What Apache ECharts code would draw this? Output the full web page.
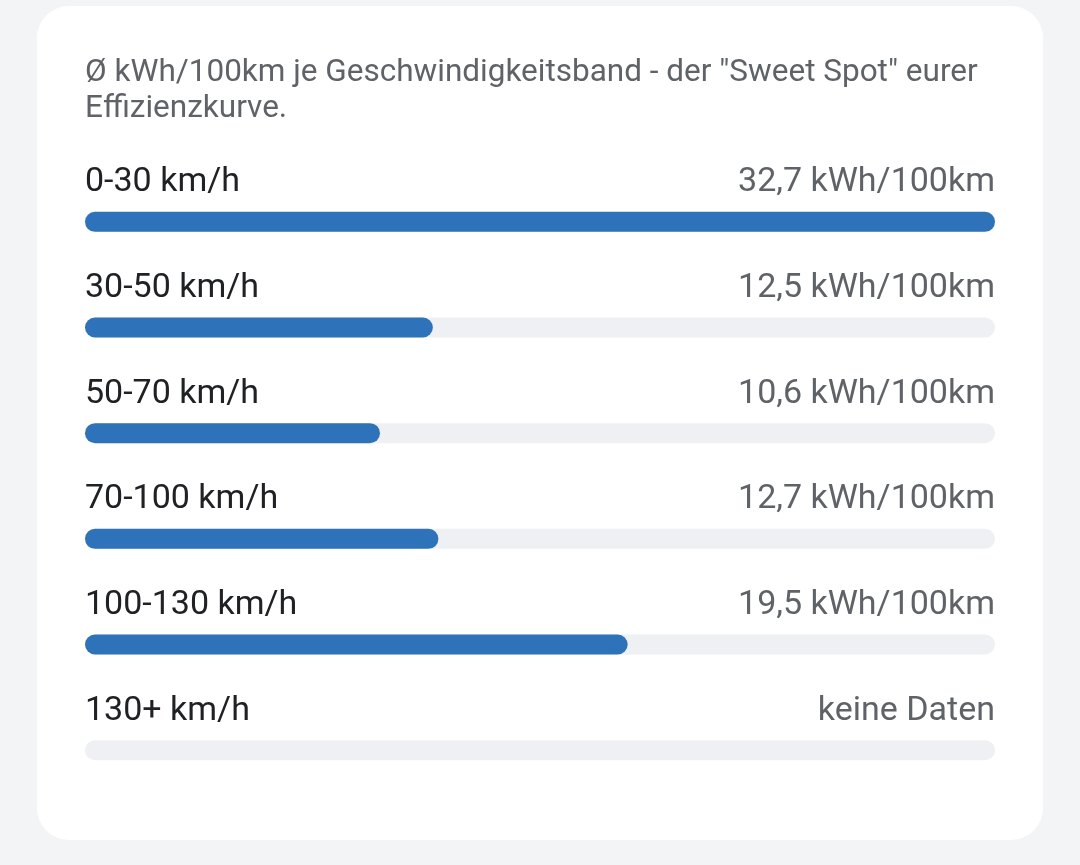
<!DOCTYPE html>
<html>
<head>
<meta charset="utf-8">
<script src="https://cdn.jsdelivr.net/npm/echarts@6/dist/echarts.min.js"></script>
<style>
    html,body{margin:0;padding:0;background:#f3f4f6;}
    #chart{width:1080px;height:865px;}
</style>
</head>
<body>
<div id="chart"></div>
<script>
// Geschwindigkeitsbaender und Verbrauch (kWh/100km), null = keine Daten
const bands = ['0-30 km/h','30-50 km/h','50-70 km/h','70-100 km/h','100-130 km/h','130+ km/h'];
const consumption = [32.7, 12.5, 10.6, 12.7, 19.5, null];
const titleText = 'Ø kWh/100km je Geschwindigkeitsband - der "Sweet Spot" eurer\nEffizienzkurve.';
const noDataText = 'keine Daten';

const valueLabels = consumption.map(v => v == null ? noDataText : v.toFixed(1).replace('.', ',') + ' kWh/100km');
const maxVal = Math.max(...consumption.filter(v => v != null));

const chart = echarts.init(document.getElementById('chart'));

const fontFamily = 'Roboto, "Noto Sans", sans-serif';

chart.setOption({
    animation: false,
    backgroundColor: '#f3f4f6',
    graphic: [
        {
            type: 'rect',
            z: -10,
            shape: {x: 37, y: 6, width: 1006, height: 834, r: 32},
            style: {fill: '#ffffff'}
        },
        {
            type: 'text',
            left: 85,
            top: 55,
            style: {
                text: titleText,
                fill: '#5f6368',
                font: '31.5px ' + fontFamily,
                lineHeight: 36
            }
        }
    ],
    grid: {left: 85, right: 85, top: 169, bottom: 62},
    xAxis: {
        type: 'value',
        min: 0,
        max: maxVal,
        show: false
    },
    yAxis: [
        {
            type: 'category',
            data: bands,
            inverse: true,
            position: 'left',
            axisLine: {show: false},
            axisTick: {show: false},
            axisLabel: {
                inside: true,
                margin: 0,
                align: 'left',
                verticalAlign: 'bottom',
                padding: [0, 0, 22, 0],
                color: '#202124',
                fontSize: 34,
                fontFamily: fontFamily
            }
        },
        {
            type: 'category',
            data: valueLabels,
            inverse: true,
            position: 'right',
            axisLine: {show: false},
            axisTick: {show: false},
            axisLabel: {
                inside: true,
                margin: 0,
                align: 'right',
                verticalAlign: 'bottom',
                padding: [0, 0, 22, 0],
                color: '#5f6368',
                fontSize: 34,
                fontFamily: fontFamily
            }
        }
    ],
    series: [
        {
            type: 'bar',
            data: consumption,
            barWidth: 20,
            itemStyle: {color: '#2e73b9', borderRadius: 10},
            showBackground: true,
            backgroundStyle: {color: '#eef0f4', borderRadius: 10}
        }
    ]
});
</script>
</body>
</html>
